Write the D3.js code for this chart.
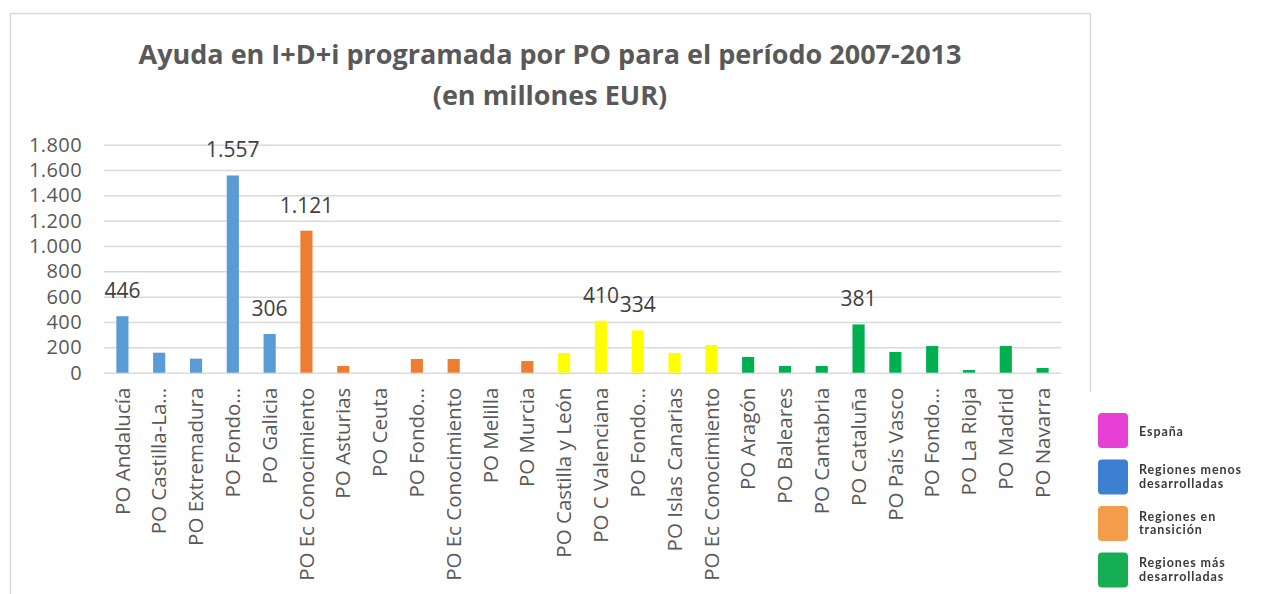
<!DOCTYPE html>
<html>
<head>
<meta charset="utf-8">
<script src="https://cdn.jsdelivr.net/npm/d3@7"></script>
<style>
  body { margin: 0; background: #fff; }
  text { font-family: "Open Sans", sans-serif; }
</style>
</head>
<body>
<svg class="chart"></svg>
<script>
var width = 1265,
    height = 594;

// data (millones EUR)
var categories = ["PO Andalucía", "PO Castilla-La…", "PO Extremadura", "PO Fondo…", "PO Galicia",
  "PO Ec Conocimiento", "PO Asturias", "PO Ceuta", "PO Fondo…", "PO Ec Conocimiento", "PO Melilla",
  "PO Murcia", "PO Castilla y León", "PO C Valenciana", "PO Fondo…", "PO Islas Canarias",
  "PO Ec Conocimiento", "PO Aragón", "PO Baleares", "PO Cantabria", "PO Cataluña", "PO País Vasco",
  "PO Fondo…", "PO La Rioja", "PO Madrid", "PO Navarra"];
var values = [446, 158, 111, 1557, 306, 1121, 53, 0, 108, 108, 0, 92, 156, 410, 334, 156, 219,
  124, 53, 53, 381, 164, 211, 21, 211, 37];
var groups = [0, 0, 0, 0, 0, 1, 1, 1, 1, 1, 1, 1, 2, 2, 2, 2, 2, 3, 3, 3, 3, 3, 3, 3, 3, 3];
var shownLabels = [446, 1557, 306, 1121, 410, 334, 381];
var yTicks = [0, 200, 400, 600, 800, 1000, 1200, 1400, 1600, 1800];
var groupColors = ["#5b9bd5", "#ed7d31", "#ffff00", "#00b050"];
var legendNames = [["España"], ["Regiones menos", "desarrolladas"], ["Regiones en", "transición"], ["Regiones más", "desarrolladas"]];
var legendColors = ["#e63fd6", "#3d7fd0", "#f49c48", "#13ae52"];

var titleLines = ["Ayuda en I+D+i programada por PO para el período 2007-2013", "(en millones EUR)"];

var es = d3.formatLocale({decimal: ",", thousands: ".", grouping: [3], currency: ["", " €"]});
var fmt = es.format(",");

var plotLeft = 104, plotRight = 1061, plotTop = 144.7, plotBottom = 372.7;

var chart = d3.select(".chart")
    .attr("width", width)
    .attr("height", height);

var xscale = d3.scaleBand().domain(d3.range(categories.length)).range([plotLeft, plotRight]).padding(0);
var yscale = d3.scaleLinear().domain([0, 1800]).range([plotBottom, plotTop]);

// chart area border
chart.append("path")
  .attr("d", "M10.5," + height + "V13.5H1090.5V392")
  .attr("fill", "none")
  .attr("stroke", "#d9d9d9")
  .attr("stroke-width", 1.5);

// title
chart.append("text")
  .attr("x", 550)
  .attr("text-anchor", "middle")
  .attr("fill", "#595959")
  .style("font-weight", "bold")
  .style("font-size", "27px")
  .selectAll("tspan")
  .data(titleLines)
  .enter().append("tspan")
    .attr("x", 550)
    .attr("y", function(d, i) { return 64 + i * 41; })
    .text(function(d) { return d; });

// gridlines
var yAxis = d3.axisLeft(yscale)
  .tickValues(yTicks)
  .tickSize(-(plotRight - plotLeft))
  .tickFormat(fmt);

var gy = chart.append("g")
  .attr("transform", "translate(" + plotLeft + ",0)")
  .call(yAxis);
gy.select(".domain").remove();
gy.selectAll(".tick line").attr("stroke", "#d9d9d9").attr("stroke-width", 1.5);
gy.selectAll(".tick text")
  .attr("x", -22)
  .attr("fill", "#595959")
  .style("font-size", "20px")
  .style("letter-spacing", "0.4px")
  .style("font-family", "Open Sans");

// bars
var barW = xscale.bandwidth() * 0.33;
chart.append("g").selectAll("rect")
  .data(values)
  .enter().append("rect")
    .attr("x", function(d, i) { return xscale(i) + xscale.bandwidth() / 2 - barW / 2; })
    .attr("y", function(d) { return yscale(d); })
    .attr("width", barW)
    .attr("height", function(d) { return yscale(0) - yscale(d); })
    .attr("fill", function(d, i) { return groupColors[groups[i]]; });

// data labels (only some are shown)
chart.append("g").selectAll("text")
  .data(values.map(function(v, i) { return {v: v, i: i}; })
    .filter(function(d) { return shownLabels.indexOf(d.v) >= 0; }))
  .enter().append("text")
    .attr("x", function(d) { return xscale(d.i) + xscale.bandwidth() / 2; })
    .attr("y", function(d) { return yscale(d.v) - 18; })
    .attr("text-anchor", "middle")
    .attr("fill", "#404040")
    .style("font-size", "21px")
    .text(function(d) { return fmt(d.v); });

// x-axis labels
var xAxis = d3.axisBottom(xscale).tickSize(0).tickFormat(function(i) { return categories[i]; });
var gx = chart.append("g")
  .attr("transform", "translate(0," + plotBottom + ")")
  .call(xAxis);
gx.select(".domain").remove();
gx.selectAll(".tick text")
  .attr("transform", "rotate(-90)")
  .attr("x", -15)
  .attr("y", 0)
  .attr("dy", "0.35em")
  .attr("text-anchor", "end")
  .attr("fill", "#595959")
  .style("font-size", "20.5px")
  .style("font-family", "Open Sans");

// legend (pasted picture in the original)
var defs = chart.append("defs");
defs.append("filter").attr("id", "soft")
  .append("feGaussianBlur").attr("stdDeviation", 0.7);

var legend = chart.append("g")
  .attr("filter", "url(#soft)");

var lg = legend.selectAll("g")
  .data(legendNames)
  .enter().append("g")
    .attr("transform", function(d, i) { return "translate(1098," + (413 + i * 46.5) + ")"; });

lg.append("rect")
  .attr("width", 30)
  .attr("height", 35)
  .attr("rx", 4)
  .attr("fill", function(d, i) { return legendColors[i]; });

lg.append("text")
  .attr("x", 41)
  .attr("fill", "#3a3a3a")
  .style("font-weight", "bold")
  .style("font-size", "12.5px")
  .style("letter-spacing", "0.9px")
  .style("font-family", "Lato")
  .selectAll("tspan")
  .data(function(d) { return d; })
  .enter().append("tspan")
    .attr("x", 41)
    .attr("y", function(d, i, n) { return n.length === 1 ? 23 : 14.5 + i * 13.5; })
    .text(function(d) { return d; });
</script>
</body>
</html>
